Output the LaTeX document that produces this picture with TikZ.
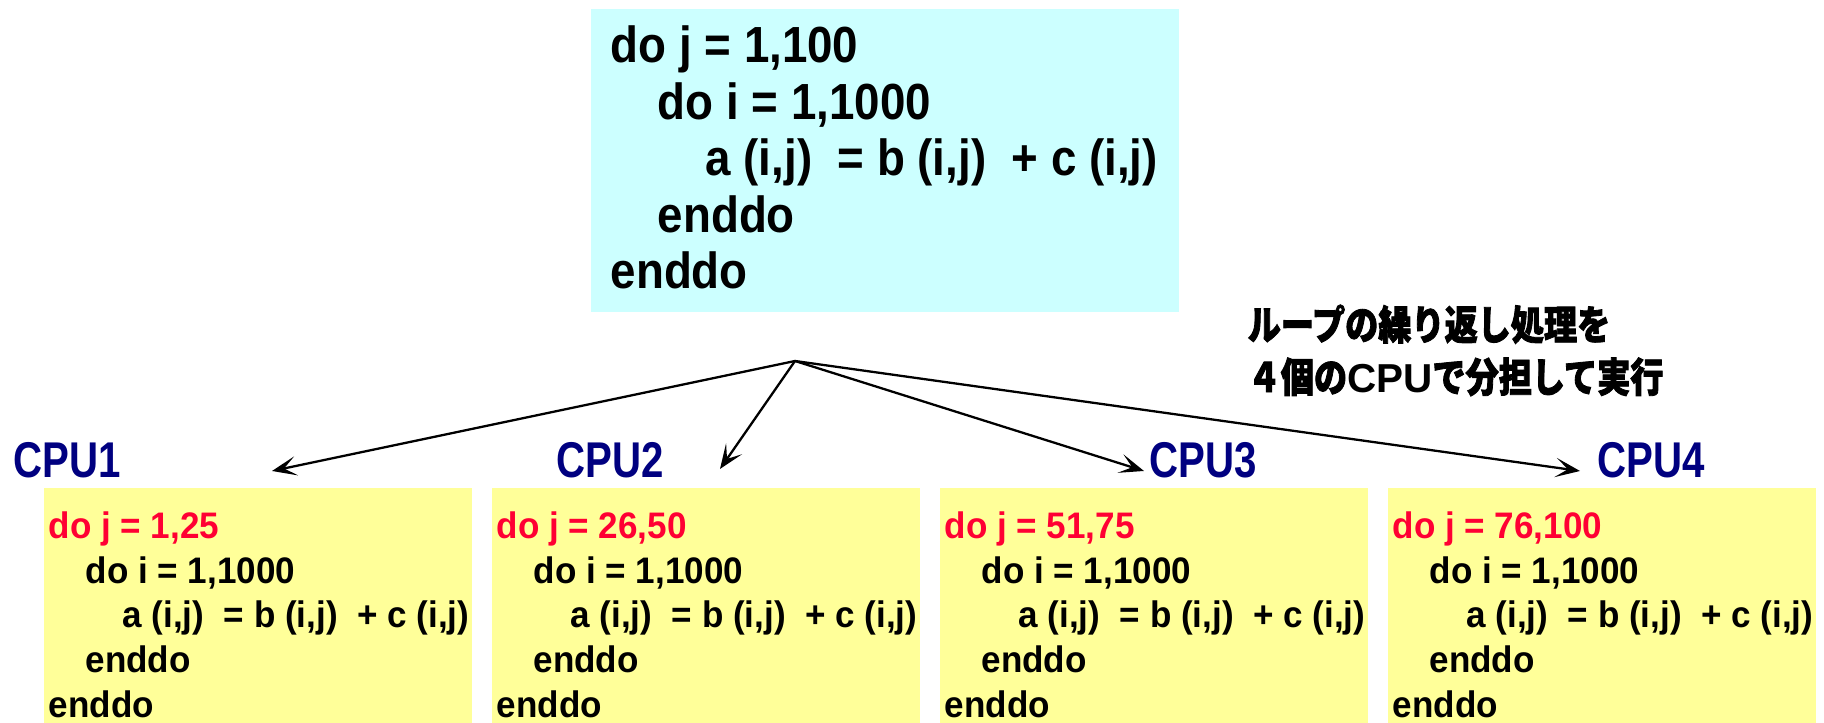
\documentclass[tikz,border=0pt]{standalone}
\usepackage{fontspec}
\setmainfont{Liberation Sans}
\newfontfamily\srcfont{Liberation Sans}[FakeStretch=0.9]
\newfontfamily\partfont{Liberation Sans}[FakeStretch=0.95]
\newfontfamily\labelfont{Liberation Sans}[FakeStretch=0.8]
\newfontfamily\cjk{Noto Sans CJK JP}[FakeStretch=0.82, BoldFeatures={FakeBold=2}]
\usepackage{tikz}
\usetikzlibrary{arrows.meta,positioning}
\definecolor{srcbg}{RGB}{204,255,255}
\definecolor{partbg}{RGB}{255,255,153}
\definecolor{cpublue}{RGB}{0,0,128}
\definecolor{rangered}{RGB}{255,0,51}
\tikzset{
  srcbox/.style = {fill=srcbg, inner sep=0pt, minimum width=5.88cm, minimum height=3.03cm, anchor=north west},% original loop
  partbox/.style = {fill=partbg, inner sep=0pt, minimum width=4.28cm, minimum height=2.36cm, anchor=north west},% one cpu's share
  srctext/.style = {align=left, inner sep=0pt, font=\srcfont\bfseries\fontsize{14.45}{16.1}\selectfont},
  parttext/.style = {align=left, inner sep=0pt, font=\partfont\bfseries\fontsize{10.5}{12.73}\selectfont},
  cpulabel/.style = {anchor=base west, inner sep=0pt, text=cpublue, font=\labelfont\bfseries\fontsize{14.3}{16}\selectfont},
  split/.style = {-{Stealth[length=7pt,width=5.5pt,inset=3.5pt]}, line width=0.65pt}
}

\begin{document}
\begin{tikzpicture}
\useasboundingbox (0,0) rectangle (18.24,-7.23);

\node [srcbox] (loop) at (5.90,-0.08) {};
\node [srctext, below right=0.17cm and 0.20cm of loop.north west] (loopcode) {do j = 1,100\\
  \hspace*{13.4pt}do i = 1,1000\\
  \hspace*{27pt}a (i,j) \ = b (i,j) \ + c (i,j)\\
  \hspace*{13.4pt}enddo\\
  enddo};

\node [anchor=north west, inner sep=0pt, align=left, font=\cjk\bfseries\fontsize{11.5}{14.9}\selectfont] (note) at (12.47,-3.04) {ループの繰り返し処理を\\４個の\textrm{CPU}で分担して実行};

\node [cpulabel] (cpu1) at (0.13,-4.78) {CPU1};
\node [cpulabel] (cpu2) at (5.56,-4.78) {CPU2};
\node [cpulabel] (cpu3) at (11.49,-4.78) {CPU3};
\node [cpulabel] (cpu4) at (15.97,-4.78) {CPU4};

\node [partbox] (part1) at (0.43,-4.87) {};
\node [parttext, below right=0.24cm and 0.05cm of part1.north west] (code1) {\textcolor{rangered}{do j = 1,25}\\
  \hspace*{10.5pt}do i = 1,1000\\
  \hspace*{21pt}a (i,j) \ = b (i,j) \ + c (i,j)\\
  \hspace*{10.5pt}enddo\\
  enddo};

\node [partbox] (part2) at (4.91,-4.87) {};
\node [parttext, below right=0.24cm and 0.05cm of part2.north west] (code2) {\textcolor{rangered}{do j = 26,50}\\
  \hspace*{10.5pt}do i = 1,1000\\
  \hspace*{21pt}a (i,j) \ = b (i,j) \ + c (i,j)\\
  \hspace*{10.5pt}enddo\\
  enddo};

\node [partbox] (part3) at (9.39,-4.87) {};
\node [parttext, below right=0.24cm and 0.05cm of part3.north west] (code3) {\textcolor{rangered}{do j = 51,75}\\
  \hspace*{10.5pt}do i = 1,1000\\
  \hspace*{21pt}a (i,j) \ = b (i,j) \ + c (i,j)\\
  \hspace*{10.5pt}enddo\\
  enddo};

\node [partbox] (part4) at (13.87,-4.87) {};
\node [parttext, below right=0.24cm and 0.05cm of part4.north west] (code4) {\textcolor{rangered}{do j = 76,100}\\
  \hspace*{10.5pt}do i = 1,1000\\
  \hspace*{21pt}a (i,j) \ = b (i,j) \ + c (i,j)\\
  \hspace*{10.5pt}enddo\\
  enddo};

\coordinate (fork) at (7.95,-3.61);
\coordinate (to1) at (2.72,-4.71);
\coordinate (to2) at (7.20,-4.69);
\coordinate (to3) at (11.44,-4.71);
\coordinate (to4) at (15.80,-4.71);
\draw [split] (fork) -- (to1);
\draw [split] (fork) -- (to2);
\draw [split] (fork) -- (to3);
\draw [split] (fork) -- (to4);
\end{tikzpicture}
\end{document}
